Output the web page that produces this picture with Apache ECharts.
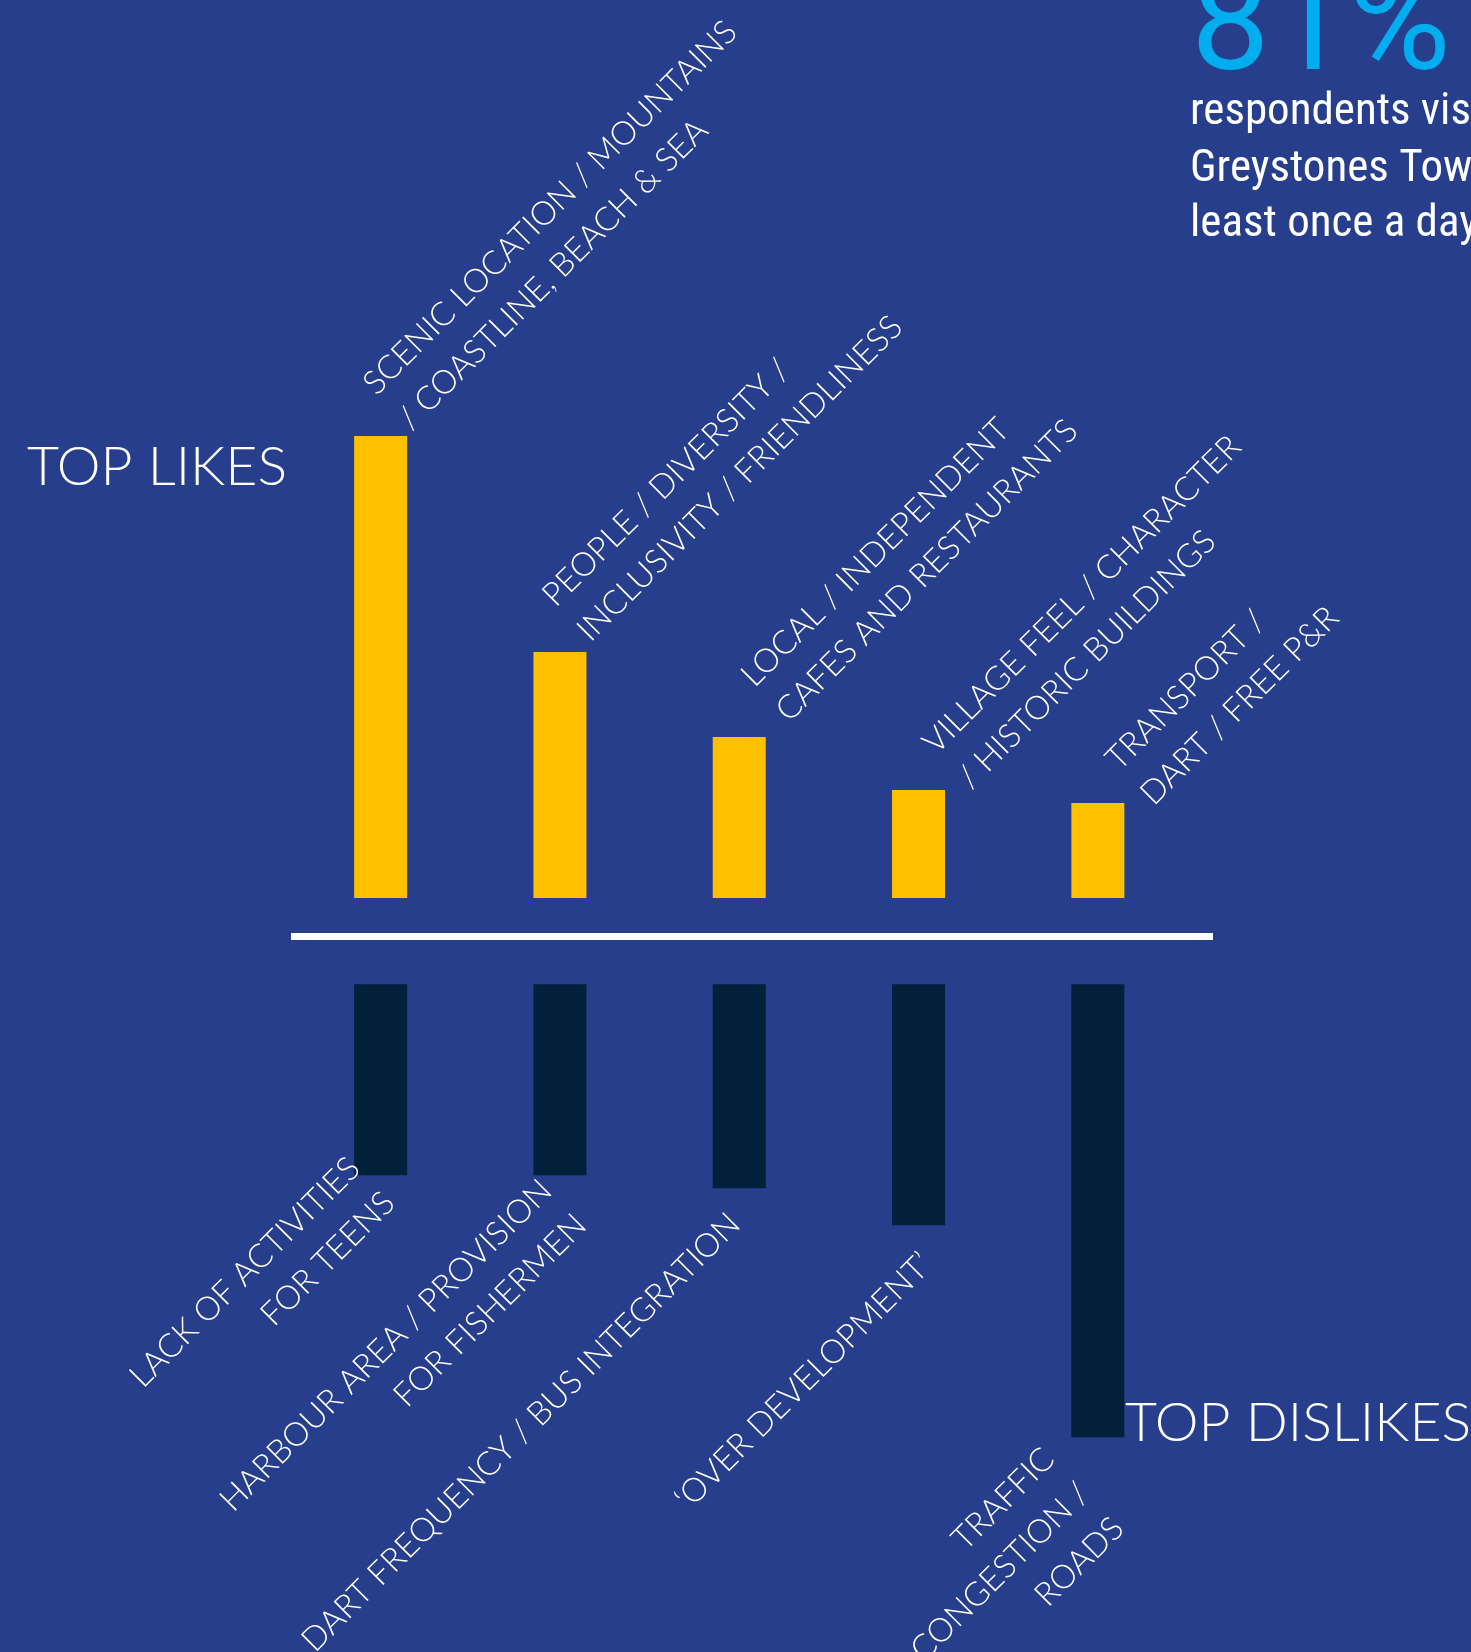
<!DOCTYPE html>
<html><head><meta charset="utf-8">
<script src="https://cdn.jsdelivr.net/npm/echarts@6/dist/echarts.min.js"></script>
<style>html,body{margin:0;padding:0;background:#263E8C;overflow:hidden;} #c{width:1471px;height:1652px;}</style>
</head><body><div id="c"></div>
<script>
// ---- data ----
const likeCategories = [
  'SCENIC LOCATION / MOUNTAINS\n/ COASTLINE, BEACH & SEA',
  'PEOPLE / DIVERSITY /\nINCLUSIVITY / FRIENDLINESS',
  'LOCAL / INDEPENDENT\nCAFES AND RESTAURANTS',
  'VILLAGE FEEL / CHARACTER\n/ HISTORIC BUILDINGS',
  'TRANSPORT /\nDART / FREE P&R'
];
const likeValues = [46.2, 24.6, 16.1, 10.8, 9.5];
const dislikeCategories = [
  'LACK OF ACTIVITIES\nFOR TEENS',
  'HARBOUR AREA / PROVISION\nFOR FISHERMEN',
  'DART FREQUENCY / BUS INTEGRATION',
  '\u2018OVER DEVELOPMENT\u2019',
  'TRAFFIC\nCONGESTION /\nROADS'
];
const dislikeValues = [19.1, 19.1, 20.4, 24.1, 45.3];
const headlineFigure = '81%';
const headlineLines = ['respondents visit', 'Greystones Town at', 'least once a day'];
const likesTitle = 'TOP LIKES';
const dislikesTitle = 'TOP DISLIKES';

// ---- style: per-label nudges in the label's own rotated frame ----
const likeLabelNudge = [[25, 32], [28, 29], [45, 39.4], [37, 51], [37, 56]];
const dislikeLabelNudge = [[-9.8, -51.7], [-16.8, -27.1], [-25, -6.1], [-17.8, 4.9], [-46.3, -47.5]];

const BG = '#263E8C', YEL = '#FFC000', DARK = '#03203B', CYAN = '#00AEEF';
const labelFont = { fontFamily: 'Lato', fontWeight: 300, fontSize: 33, lineHeight: 49, color: '#ffffff' };
const paraFont = '45px "Roboto Condensed", Roboto';

const chart = echarts.init(document.getElementById('c'), null, { renderer: 'canvas' });
const gridLeft = 291, gridWidth = 896.5;

const option = {
  backgroundColor: BG,
  animation: false,
  grid: [
    { left: gridLeft, width: gridWidth, top: 398, height: 500, outerBoundsMode: 'none', containLabel: false },
    { left: gridLeft, width: gridWidth, top: 984.2, height: 500, outerBoundsMode: 'none', containLabel: false }
  ],
  xAxis: [
    { type: 'category', gridIndex: 0, data: likeCategories, show: false },
    { type: 'category', gridIndex: 1, data: dislikeCategories, show: false }
  ],
  yAxis: [
    { type: 'value', gridIndex: 0, min: 0, max: 50, show: false },
    { type: 'value', gridIndex: 1, min: 0, max: 50, inverse: true, show: false }
  ],
  series: [
    {
      type: 'bar', xAxisIndex: 0, yAxisIndex: 0, barWidth: 53,
      itemStyle: { color: YEL },
      label: Object.assign({ show: true, position: 'top', distance: 0, rotate: 45, align: 'left', verticalAlign: 'bottom', formatter: '{b}' }, labelFont),
      data: likeValues.map((v, i) => ({ value: v, label: { offset: likeLabelNudge[i] } }))
    },
    {
      type: 'bar', xAxisIndex: 1, yAxisIndex: 1, barWidth: 53,
      itemStyle: { color: DARK },
      label: Object.assign({ show: true, position: 'bottom', distance: 0, rotate: 45, align: 'right', verticalAlign: 'top', formatter: '{b}' }, labelFont),
      data: dislikeValues.map((v, i) => ({ value: v, label: { offset: dislikeLabelNudge[i] } }))
    }
  ],
  graphic: [
    { type: 'rect', shape: { x: 291, y: 933, width: 922, height: 7 }, style: { fill: '#ffffff' } },
    { type: 'text', x: 27, y: 468, scaleX: 1.045, style: { text: likesTitle, fill: '#fff', font: '300 53px Lato', textAlign: 'left', textVerticalAlign: 'middle' } },
    { type: 'text', x: 1125, y: 1424, scaleX: 1.045, style: { text: dislikesTitle, fill: '#fff', font: '300 53px Lato', textAlign: 'left', textVerticalAlign: 'middle' } },
    { type: 'text', x: 1191, y: 34, style: { text: headlineFigure, fill: CYAN, font: '140px Roboto', textAlign: 'left', textVerticalAlign: 'middle' } },
    { type: 'text', x: 1190, y: 113, style: { text: headlineLines[0], fill: '#fff', font: paraFont, textAlign: 'left', textVerticalAlign: 'middle' } },
    { type: 'text', x: 1190, y: 170, style: { text: headlineLines[1], fill: '#fff', font: paraFont, textAlign: 'left', textVerticalAlign: 'middle' } },
    { type: 'text', x: 1190, y: 225, style: { text: headlineLines[2], fill: '#fff', font: paraFont, textAlign: 'left', textVerticalAlign: 'middle' } }
  ]
};
chart.setOption(option);
</script>
</body></html>
